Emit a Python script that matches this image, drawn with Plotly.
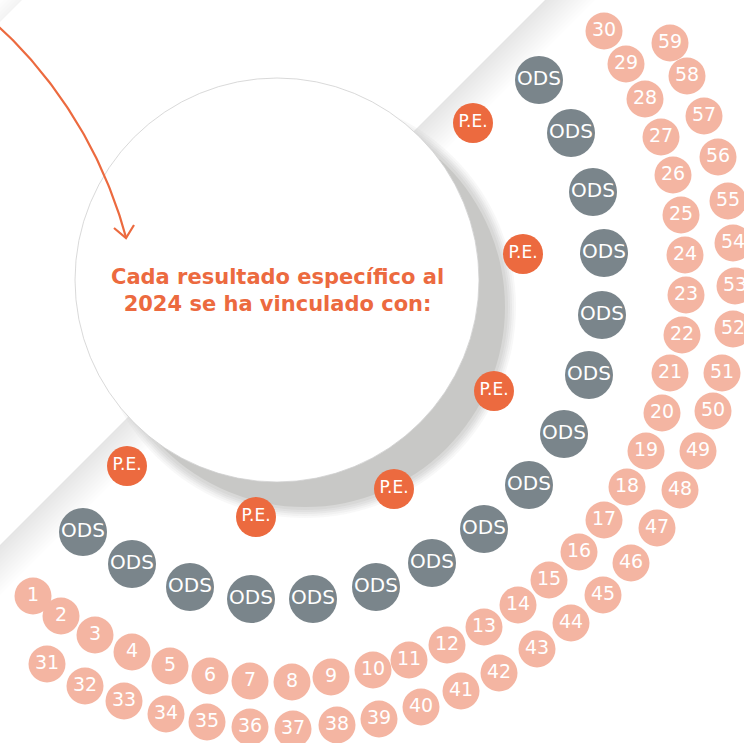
import numpy as np
import plotly.graph_objects as go

# ---------------- data ----------------
inner_labels = [str(i) for i in range(1, 31)]
inner_x = [33, 61, 95, 132, 170, 210, 250, 292, 331, 373, 409, 447, 484, 518, 549,
           579, 604, 627, 646, 662, 670, 682, 686, 685, 681, 673, 661, 645, 626, 604]
inner_y = [596, 616, 635, 652, 666, 676, 681, 682, 677, 670, 660, 645, 627, 605, 580,
           552, 520, 487, 451, 413, 373, 335, 295, 255, 215, 175, 137, 99, 64, 31]

outer_labels = [str(i) for i in range(31, 60)]
outer_x = [47, 85, 124, 166, 207, 250, 293, 337, 379, 421, 461, 499, 537, 571, 603,
           631, 657, 680, 698, 713, 722, 733, 735, 733, 728, 718, 704, 687, 670]
outer_y = [664, 686, 701, 714, 722, 727, 729, 725, 719, 707, 691, 673, 649, 623, 595,
           563, 528, 490, 451, 411, 373, 329, 286, 243, 201, 157, 116, 76, 43]

ods_x = [539, 571, 593, 604, 602, 589, 564, 529, 484, 432, 376, 313, 251, 190, 132, 83]
ods_y = [80, 133, 192, 253, 315, 375, 434, 485, 529, 563, 587, 599, 599, 587, 564, 532]
ods_label = "ODS"

pe_x = [473, 523, 494, 394, 256, 127]
pe_y = [123, 254, 391, 489, 517, 466]
pe_label = "P.E."

title_lines = ["Cada resultado específico al", "2024 se ha vinculado con:"]

# ---------------- styling ----------------
PINK = "#f4b5a2"
ORANGE = "#ec6a3f"
GREY = "#7a858b"
SHADOW = "200,200,198"
W, H = 744, 743

fig = go.Figure()

shapes = []
# background diagonal band with soft gradient (edge at x+y=545)
edge = 545
for w in range(50, 0, -4):
    e2 = edge + w
    shapes.append(dict(type="path", layer="below",
                       path=f"M {edge},0 L {e2},0 L 0,{e2} L 0,{edge} Z",
                       fillcolor="rgba(140,140,140,0.018)", line=dict(width=0)))
# top-left corner triangle
for w in range(22, 0, -4):
    shapes.append(dict(type="path", layer="below",
                       path=f"M 22,0 L {22 - w},0 L 0,{22 - w} L 0,22 Z",
                       fillcolor="rgba(140,140,140,0.02)", line=dict(width=0)))

# shadow of the big circle (blurred)
scx, scy = 305, 307
for r, a in [(211, 0.12), (209, 0.15), (207, 0.2), (205, 0.25), (203, 0.35)]:
    shapes.append(dict(type="circle", layer="below", xref="x", yref="y",
                       x0=scx - r, x1=scx + r, y0=scy - r, y1=scy + r,
                       fillcolor=f"rgba({SHADOW},{a})", line=dict(width=0)))
r = 200
shapes.append(dict(type="circle", layer="below", x0=scx - r, x1=scx + r, y0=scy - r, y1=scy + r,
                   fillcolor=f"rgb({SHADOW})", line=dict(width=0)))
# big white circle
ccx, ccy, cr = 277, 280, 202
shapes.append(dict(type="circle", layer="below", x0=ccx - cr, x1=ccx + cr, y0=ccy - cr, y1=ccy + cr,
                   fillcolor="white", line=dict(color="#cfcfcf", width=0.8)))

# decorative arrow: arc of a large circle ending inside the white circle
acx, acy, ar = -305.5, 354.0, 447.0
a0 = np.arctan2(20 - acy, -8 - acx)
a1 = np.arctan2(238 - acy, 126 - acx)
ang = np.linspace(a0, a1, 80)
fig.add_trace(go.Scatter(x=acx + ar * np.cos(ang), y=acy + ar * np.sin(ang), mode="lines",
                         line=dict(color=ORANGE, width=2.2),
                         hoverinfo="skip", showlegend=False))
fig.add_trace(go.Scatter(x=[114, 126, 134], y=[228, 238, 225], mode="lines",
                         line=dict(color=ORANGE, width=2.2),
                         hoverinfo="skip", showlegend=False))

LABEL_FONT = "DejaVu Sans"

fig.add_trace(go.Scatter(x=ods_x, y=ods_y, mode="markers+text",
                         marker=dict(size=48, color=GREY, line=dict(width=0)),
                         text=[ods_label] * len(ods_x), textposition="middle center",
                         textfont=dict(family=LABEL_FONT, size=20, color="white"),
                         hoverinfo="skip", showlegend=False))
fig.add_trace(go.Scatter(x=pe_x, y=pe_y, mode="markers+text",
                         marker=dict(size=40, color=ORANGE, line=dict(width=0)),
                         text=[pe_label] * len(pe_x), textposition="middle center",
                         textfont=dict(family=LABEL_FONT, size=17, color="white"),
                         hoverinfo="skip", showlegend=False))
fig.add_trace(go.Scatter(x=inner_x, y=inner_y, mode="markers+text",
                         marker=dict(size=37, color=PINK, line=dict(width=0)),
                         text=inner_labels, textposition="middle center",
                         textfont=dict(family=LABEL_FONT, size=19, color="white"),
                         hoverinfo="skip", showlegend=False))
fig.add_trace(go.Scatter(x=outer_x, y=outer_y, mode="markers+text",
                         marker=dict(size=37, color=PINK, line=dict(width=0)),
                         text=outer_labels, textposition="middle center",
                         textfont=dict(family=LABEL_FONT, size=19, color="white"),
                         hoverinfo="skip", showlegend=False))

fig.add_annotation(x=ccx, y=290, xref="x", yref="y", showarrow=False,
                   text="<br>".join(title_lines), align="center",
                   font=dict(family="DejaVu Sans", size=21, color=ORANGE, weight="bold"))

fig.update_layout(
    width=W, height=H, margin=dict(l=0, r=0, t=0, b=0),
    paper_bgcolor="white", plot_bgcolor="white",
    xaxis=dict(range=[0, W], visible=False, fixedrange=True),
    yaxis=dict(range=[H, 0], visible=False, fixedrange=True),
    shapes=shapes, showlegend=False,
)

fig.write_html("out.html", config={"displayModeBar": False},
               post_script="document.body.style.margin='0';document.body.style.overflow='hidden';")
